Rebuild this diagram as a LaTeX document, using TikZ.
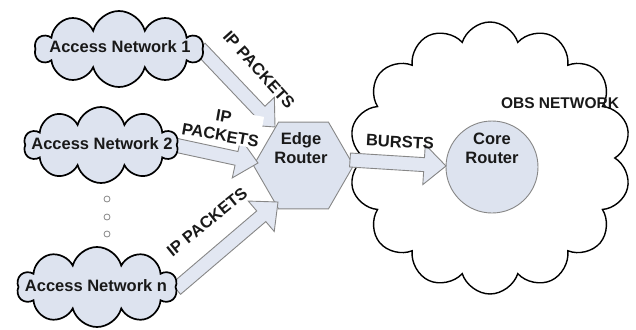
\documentclass[tikz,border=0pt]{standalone}
\usepackage{fontspec}
\setmainfont{Liberation Sans}
\usetikzlibrary{shapes.symbols,shapes.geometric,calc}

\definecolor{netfill}{RGB}{221,227,239}
\definecolor{flowfill}{RGB}{226,231,242}
\definecolor{edgegray}{RGB}{135,135,135}
\definecolor{ink}{RGB}{25,25,25}

% block arrow geometry
\newcommand\shafthalf{7pt}
\newcommand\headhalf{20pt}
\newcommand\headlen{22pt}
% wide block arrow from coordinate #1 (tail) to coordinate #2 (tip)
\newcommand\flowarrow[2]{%
  \draw[flow] ($(#1)!\shafthalf!90:(#2)$)
    -- ($($(#2)!\headlen!(#1)$)!\shafthalf!90:(#2)$)
    -- ($($(#2)!\headlen!(#1)$)!\headhalf!90:(#2)$)
    -- (#2)
    -- ($($(#2)!\headlen!(#1)$)!\headhalf!-90:(#2)$)
    -- ($($(#2)!\headlen!(#1)$)!\shafthalf!-90:(#2)$)
    -- ($(#1)!\shafthalf!-90:(#2)$) -- cycle;}

\begin{document}
\begin{tikzpicture}[x=1pt,y=-1pt,
  font=\fontsize{16.5}{19}\selectfont\bfseries, text=ink,
  accloud/.style={cloud, cloud puffs=10, cloud puff arc=150, cloud ignores aspect,
    draw=black, line width=1.7pt, fill=netfill, inner sep=0pt},
  bigcloud/.style={cloud, cloud puffs=14, cloud puff arc=145, cloud ignores aspect,
    draw=black, line width=1.4pt, fill=white, inner sep=0pt},
  flow/.style={draw=edgegray, line width=0.9pt, fill=flowfill, line join=miter},
  hexa/.style={regular polygon, regular polygon sides=6, draw=edgegray,
    line width=0.9pt, fill=netfill, inner sep=0pt, minimum size=100pt},
  router/.style={circle, draw=edgegray, line width=0.9pt, fill=netfill,
    inner sep=0pt, minimum size=92pt},
  dotc/.style={circle, draw=edgegray, line width=0.8pt, fill=white,
    inner sep=0pt, minimum size=6pt},
  txt/.style={inner sep=0pt, align=center},
]
\useasboundingbox (0,0) rectangle (636,329);

% optical burst switching domain
\node[bigcloud, minimum width=282pt, minimum height=272pt] (obs) at (490,158) {};
\node[txt, font=\fontsize{15.5}{19}\selectfont\bfseries] (obslbl) at (560,103) {OBS NETWORK};

% edge router
\node[hexa] (er) at (303.5,165.5) {};
\node[txt] (ertxt) at (301,148) {Edge\\Router};

% core router
\node[router] (cr) at (492,167) {};
\node[txt] (crtxt) at (492,148) {Core\\Router};

% arrow end points
\coordinate (t1) at (200,48);
\coordinate (h1) at (275,127);
\coordinate (t2) at (170,144);
\coordinate (h2) at (258,163);
\coordinate (tn) at (176,289);
\coordinate (hn) at (278,202);
\coordinate (tb) at (350,160);
\coordinate (hb) at (446,166);

\flowarrow{t1}{h1}
\flowarrow{t2}{h2}
\flowarrow{tn}{hn}
\flowarrow{tb}{hb}

% access networks
\node[accloud, minimum width=168pt, minimum height=76pt] (an1) at (119,49) {};
\node[txt] at (120,47) {Access Network 1};
\node[accloud, minimum width=154pt, minimum height=76pt] (an2) at (101,145) {};
\node[txt] at (102,144) {Access Network 2};
\node[accloud, minimum width=160pt, minimum height=80pt] (ann) at (97,287) {};
\node[txt] at (96,286) {Access Network n};

% ellipsis between networks
\node[dotc] (d1) at (107,199) {};
\node[dotc] (d2) at (107,217) {};
\node[dotc] (d3) at (107,234) {};

% arrow labels
\node[txt, rotate=-48] (l1) at (259,70) {IP PACKETS};
\node[txt, rotate=-10, fill=white, inner sep=1pt] (l2) at (222,126) {IP\\PACKETS};
\node[txt, rotate=39] (ln) at (207,222) {IP PACKETS};
\node[txt, rotate=-3] (lb) at (400,142) {BURSTS};
\end{tikzpicture}
\end{document}
